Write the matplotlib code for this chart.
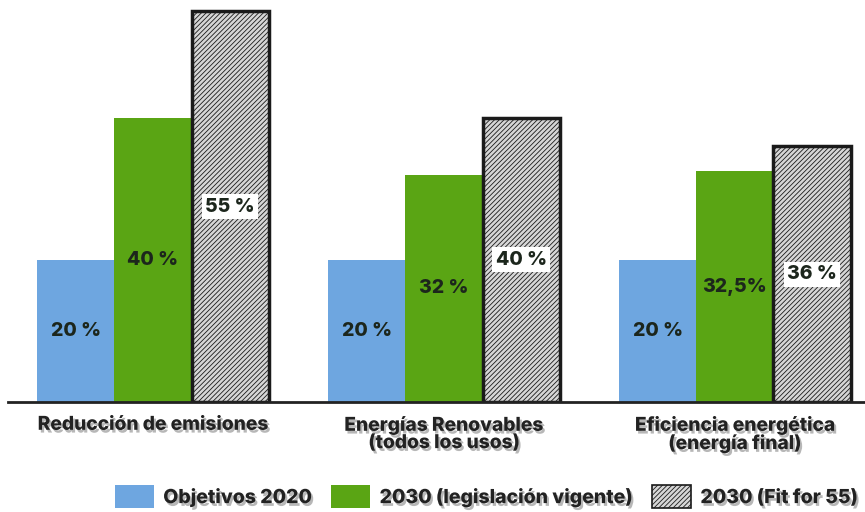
import matplotlib
matplotlib.use("Agg")
import matplotlib.pyplot as plt
import matplotlib.patheffects as pe
from matplotlib.patches import Patch
import numpy as np

categories = ["Reducción de emisiones",
              "Energías Renovables\n(todos los usos)",
              "Eficiencia energética\n(energía final)"]
series_names = ["Objetivos 2020", "2030 (legislación vigente)", "2030 (Fit for 55)"]
objetivos_2020 = [20, 20, 20]
legislacion_vigente = [40, 32, 32.5]
fit_for_55 = [55, 40, 36]
label_2020 = ["20 %", "20 %", "20 %"]
label_vigente = ["40 %", "32 %", "32,5%"]
label_fit55 = ["55 %", "40 %", "36 %"]

plt.rcParams["hatch.color"] = "#b0b0b0"
plt.rcParams["hatch.linewidth"] = 0.6
FONT = ["Inter", "DejaVu Sans"]

fig = plt.figure(figsize=(8.65, 5.12), dpi=100)
ax = fig.add_axes([0.0, 0.215, 1.0, 0.785])

x = np.arange(len(categories))
w = 0.265

b1 = ax.bar(x - w, objetivos_2020, w, color="#6ea6e0", edgecolor="none")
b2 = ax.bar(x, legislacion_vigente, w, color="#5aa514", edgecolor="none")
b3 = ax.bar(x + w, fit_for_55, w, color="#d6d6d6", edgecolor="#1a1a1a",
            linewidth=2.5, hatch="///////")

for bars, vals, labs, boxed in [(b1, objetivos_2020, label_2020, False),
                                (b2, legislacion_vigente, label_vigente, False),
                                (b3, fit_for_55, label_fit55, True)]:
    for b, v, s in zip(bars, vals, labs):
        kw = {}
        if boxed:
            kw["bbox"] = dict(facecolor="white", edgecolor="none", pad=2.5)
        ax.text(b.get_x() + b.get_width() / 2, v / 2, s, ha="center", va="center",
                fontsize=14, fontweight="heavy", family=FONT,
                color="#1c261c", **kw)

ax.set_xlim(-0.526, 2.447)
ax.set_ylim(0, 56.6)
for s in ["top", "right", "left"]:
    ax.spines[s].set_visible(False)
ax.spines["bottom"].set_linewidth(2)
ax.spines["bottom"].set_color("#222222")
ax.spines["bottom"].set_bounds(-0.5, 2.447)
ax.set_yticks([])
ax.set_xticks(x)
ax.set_xticklabels(categories, fontsize=13.8, fontweight="heavy", family=FONT,
                   color="#222222", linespacing=0.95)
ax.tick_params(axis="x", length=0, pad=10)
text_shadow = [pe.withSimplePatchShadow(offset=(1.5, -2), shadow_rgbFace="#999999", alpha=0.7)]
for t in ax.get_xticklabels():
    t.set_path_effects(text_shadow)

handles = [Patch(facecolor="#6ea6e0", edgecolor="none"),
           Patch(facecolor="#5aa514", edgecolor="none"),
           Patch(facecolor="#d6d6d6", edgecolor="#1a1a1a", hatch="///////", linewidth=1.2)]
leg = fig.legend(handles, series_names, loc="center", bbox_to_anchor=(0.562, 0.03),
                 ncol=3, frameon=False, handlelength=2.0, handleheight=1.4,
                 columnspacing=1.0, handletextpad=0.5,
                 prop={"family": FONT, "weight": "heavy", "size": 14})
for t in leg.get_texts():
    t.set_color("#222222")
    t.set_path_effects(text_shadow)

fig.savefig("out.png", dpi=100, facecolor="white")
